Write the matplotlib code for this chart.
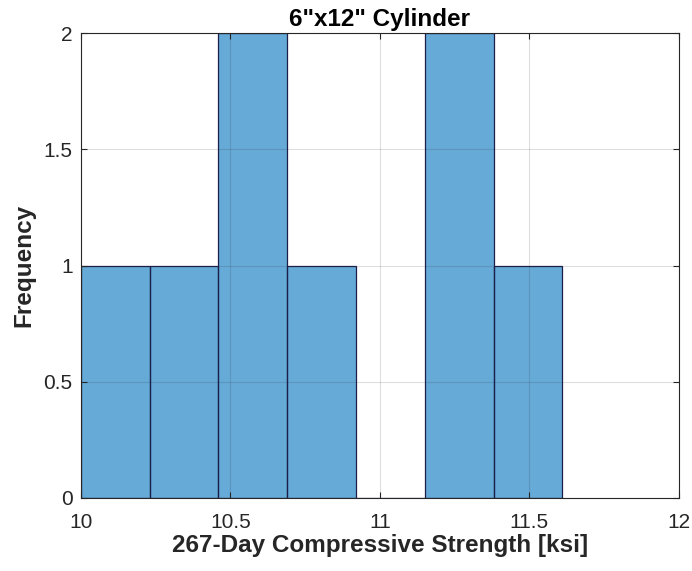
import matplotlib

matplotlib.use("Agg")

import matplotlib.pyplot as plt  # noqa: E402

# histogram bins (ksi) and counts
bin_edges = [10.0, 10.23, 10.46, 10.69, 10.92, 11.15, 11.38, 11.61]
counts = [1, 1, 2, 1, 0, 2, 1]
x_ticks = [10, 10.5, 11, 11.5, 12]
y_ticks = [0, 0.5, 1, 1.5, 2]

plt.rcParams["font.family"] = ["Liberation Sans", "DejaVu Sans"]

fig = plt.figure(figsize=(6.92, 5.71), dpi=100)
ax = fig.add_axes([0.117, 0.128, 0.864, 0.814])

widths = [b - a for a, b in zip(bin_edges[:-1], bin_edges[1:])]
ax.bar(bin_edges[:-1], counts, width=widths, align="edge",
       facecolor=(0.0, 0.447, 0.741, 0.6), edgecolor="#1c1f4a",
       linewidth=0.9, zorder=1)

ax.set_xlim(10, 12)
ax.set_ylim(0, 2)
ax.set_xticks(x_ticks)
ax.set_xticklabels(["10", "10.5", "11", "11.5", "12"])
ax.set_yticks(y_ticks)
ax.set_yticklabels(["0", "0.5", "1", "1.5", "2"])

ax.grid(True, color="#262626", alpha=0.15, linewidth=0.8, zorder=2)
ax.set_axisbelow(False)
ax.tick_params(direction="in", top=True, right=True, length=4,
               labelsize=15, color="#262626", labelcolor="#262626")
ax.tick_params(axis="x", pad=11)
ax.tick_params(axis="y", pad=6)
for sp in ax.spines.values():
    sp.set_color("#262626")
    sp.set_linewidth(0.8)

ax.set_title('6"x12" Cylinder', fontsize=17.5, fontweight="bold", pad=5)
ax.set_xlabel("267-Day Compressive Strength [ksi]", fontsize=17.5,
              fontweight="bold", color="#262626", labelpad=1)
ax.set_ylabel("Frequency", fontsize=17.5, fontweight="bold",
              color="#262626", labelpad=6)

fig.savefig("out.png", dpi=100)
plt.close(fig)
